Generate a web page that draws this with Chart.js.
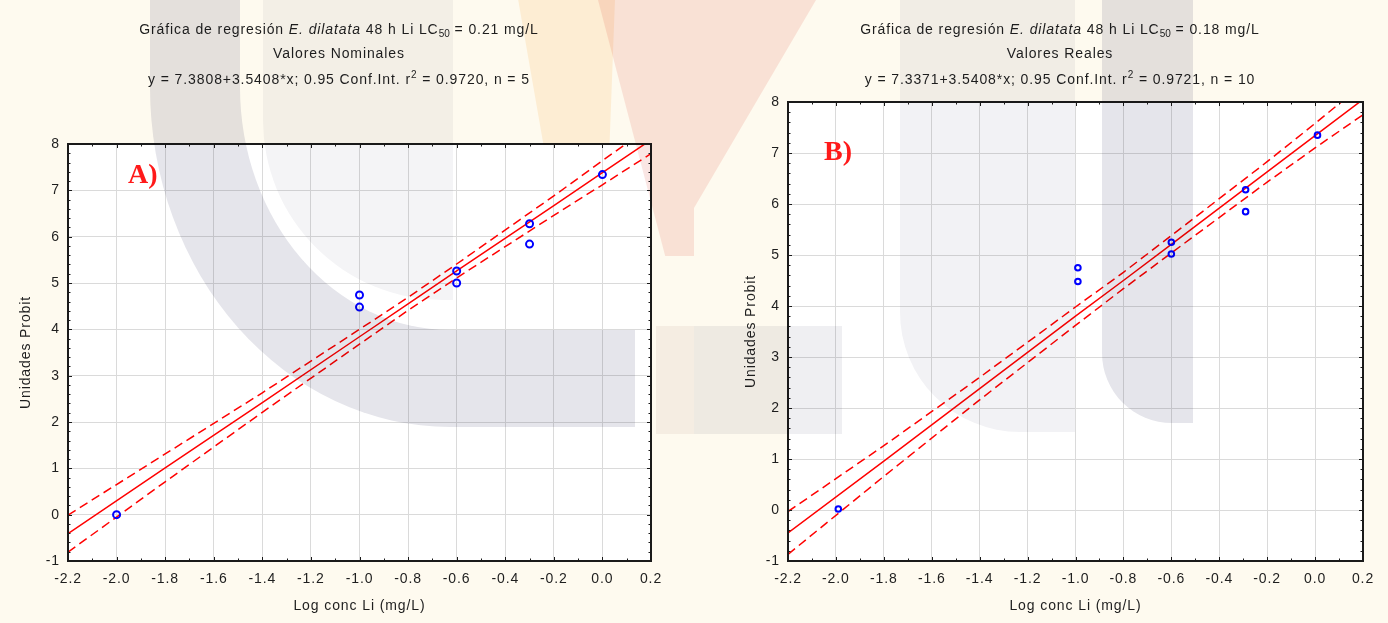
<!DOCTYPE html>
<html lang="es">
<head>
<meta charset="UTF-8">
<title>Gráfica de regresión E. dilatata 48 h Li</title>
<script src="https://cdn.jsdelivr.net/npm/chart.js@4.4.1/dist/chart.umd.min.js"></script>
<style>
    body {
        margin: 0;
        width: 1388px;
        height: 623px;
        overflow: hidden;
        position: relative;
        background: #fefaef;
        font-family: "Liberation Sans", Arial, sans-serif;
        color: #1e1e1e;
    }
    .panel { position: absolute; top: 0; width: 694px; height: 623px; }
    .panel canvas { position: absolute; left: 0; top: 0; }
    .ttl {
        position: absolute;
        width: 694px;
        text-align: center;
        font-size: 14px;
        line-height: 16px;
        letter-spacing: 0.9px;
        white-space: nowrap;
    }
    .ttl sub { font-size: 10px; vertical-align: -3px; line-height: 0; letter-spacing: 0; }
    .ttl sup { font-size: 10px; vertical-align: 6px; line-height: 0; }
    .tag {
        position: absolute;
        font: bold 28px "Liberation Serif", "Times New Roman", serif;
        line-height: 28px;
        color: #ff1a1a;
    }
    /* watermark behind the figure, multiplied over everything */
    .wm { position: absolute; mix-blend-mode: multiply; pointer-events: none; box-sizing: border-box; }
</style>
</head>
<body>

<div class="panel" style="left:0">
    <canvas id="chartA" width="694" height="623"></canvas>
    <div class="ttl" style="left:-8px; top:21px">Gráfica de regresión <i>E. dilatata</i> 48 h Li LC<sub>50</sub> = 0.21 mg/L</div>
    <div class="ttl" style="left:-8px; top:45px">Valores Nominales</div>
    <div class="ttl" style="left:-8px; top:71px">y = 7.3808+3.5408*x; 0.95 Conf.Int. r<sup>2</sup> = 0.9720, n = 5</div>
    <div class="tag" style="left:128px; top:160px">A)</div>
</div>

<div class="panel" style="left:694px">
    <canvas id="chartB" width="694" height="623"></canvas>
    <div class="ttl" style="left:19px; top:21px">Gráfica de regresión <i>E. dilatata</i> 48 h Li LC<sub>50</sub> = 0.18 mg/L</div>
    <div class="ttl" style="left:19px; top:45px">Valores Reales</div>
    <div class="ttl" style="left:19px; top:71px">y = 7.3371+3.5408*x; 0.95 Conf.Int. r<sup>2</sup> = 0.9721, n = 10</div>
    <div class="tag" style="left:130px; top:137px">B)</div>
</div>

<!-- rough logo watermark -->
<div class="wm" style="left:150px; top:-300px; width:485px; height:727px; border-left:90px solid #e5e5eb; border-bottom:97px solid #e5e5eb; border-bottom-left-radius:300px 340px;"></div>
<div class="wm" style="left:263px; top:0; width:190px; height:300px; background:#f4f4f6; border-bottom-left-radius:180px;"></div>
<div class="wm" style="left:505px; top:0; width:110px; height:145px; background:#fef2e2; clip-path:polygon(12% 0, 100% 0, 95% 100%, 35% 100%);"></div>
<div class="wm" style="left:598px; top:0; width:96px; height:256px; background:#fae6e4; clip-path:polygon(0 0, 100% 0, 100% 100%, 70% 100%);"></div>
<div class="wm" style="left:656px; top:326px; width:38px; height:108px; background:#f6f2f2;"></div>
<div class="wm" style="left:694px; top:0; width:122px; height:208px; background:#fae6e4; clip-path:polygon(0 0, 100% 0, 0 100%);"></div>
<div class="wm" style="left:694px; top:326px; width:148px; height:108px; background:#efeff2;"></div>
<div class="wm" style="left:900px; top:0; width:175px; height:432px; background:#f2f2f5; border-bottom-left-radius:120px;"></div>
<div class="wm" style="left:1102px; top:0; width:91px; height:423px; background:#e5e5eb; border-bottom-left-radius:70px;"></div>

<script>
    // axis ticks (labelled)
    const xTicks = [-2.2, -2.0, -1.8, -1.6, -1.4, -1.2, -1.0, -0.8, -0.6, -0.4, -0.2, 0.0, 0.2];
    const yTicks = [-1, 0, 1, 2, 3, 4, 5, 6, 7, 8];

    // observed probits, panel A (nominal concentrations)
    const concA = [-2.0, -1.0, -1.0, -0.6, -0.6, -0.3, -0.3, 0.0];
    const probitA = [0.0, 4.74, 4.48, 5.26, 5.0, 6.28, 5.84, 7.34];

    // observed probits, panel B (measured concentrations)
    const concB = [-1.99, -0.99, -0.99, -0.6, -0.6, -0.29, -0.29, 0.01];
    const probitB = [0.02, 4.75, 4.48, 5.25, 5.02, 6.28, 5.85, 7.35];

    // fitted line and 95% band, read along the x axis
    const fitX = [-2.2, -1.8, -1.4, -1.0, -0.8, -0.6, -0.2, 0.0, 0.2];
    const fitA = [-0.41, 1.01, 2.42, 3.84, 4.55, 5.26, 6.67, 7.38, 8.09];
    const upperA = [-0.01, 1.31, 2.63, 4.00, 4.69, 5.41, 6.88, 7.64, 8.39];
    const lowerA = [-0.81, 0.71, 2.21, 3.68, 4.41, 5.11, 6.46, 7.12, 7.79];
    const fitB = [-0.45, 0.96, 2.38, 3.80, 4.50, 5.21, 6.63, 7.34, 8.05];
    const upperB = [-0.03, 1.26, 2.60, 3.98, 4.66, 5.38, 6.83, 7.58, 8.35];
    const lowerB = [-0.87, 0.66, 2.16, 3.62, 4.34, 5.04, 6.43, 7.10, 7.75];

    const FONT = '"Liberation Sans", Arial, sans-serif';
    const RED = '#ff0000';
    const BLUE = '#0000ff';

    const pairs = (xs, ys) => xs.map((v, i) => ({ x: v, y: ys[i] }));

    // white plot area, black frame and inward minor/major ticks on all four sides
    const framePlugin = {
        id: 'frame',
        beforeDraw(chart) {
            const { ctx, chartArea: a } = chart;
            ctx.save();
            ctx.fillStyle = '#ffffff';
            ctx.fillRect(a.left, a.top, a.right - a.left, a.bottom - a.top);
            ctx.restore();
            ctx.letterSpacing = '0.9px';
        },
        afterDraw(chart) {
            const { ctx, chartArea: a, scales } = chart;
            const sx = scales.x, sy = scales.y;
            ctx.save();
            ctx.strokeStyle = '#1a1a1a';
            ctx.lineWidth = 1;
            ctx.beginPath();
            for (let i = 0; i <= 24; i++) {
                const px = Math.round(sx.getPixelForValue(xTicks[0] + i * 0.1)) + 0.5;
                const len = i % 2 === 0 ? 4 : 2.5;
                ctx.moveTo(px, a.bottom); ctx.lineTo(px, a.bottom - len);
                ctx.moveTo(px, a.top); ctx.lineTo(px, a.top + len);
            }
            for (let i = 0; i <= 45; i++) {
                const py = Math.round(sy.getPixelForValue(yTicks[0] + i * 0.2)) + 0.5;
                const len = i % 5 === 0 ? 4 : 2.5;
                ctx.moveTo(a.left, py); ctx.lineTo(a.left + len, py);
                ctx.moveTo(a.right, py); ctx.lineTo(a.right - len, py);
            }
            ctx.stroke();
            ctx.lineWidth = 2;
            ctx.strokeRect(a.left, a.top, a.right - a.left, a.bottom - a.top);
            ctx.restore();
        }
    };

    function makeChart(id, conc, probit, fit, upper, lower, pad, yWidth, markR) {
        const ctx = document.getElementById(id).getContext('2d');
        return new Chart(ctx, {
            type: 'scatter',
            data: {
                datasets: [
                    {
                        data: pairs(conc, probit),
                        pointStyle: 'circle',
                        pointRadius: markR,
                        pointBorderWidth: 2,
                        pointBorderColor: BLUE,
                        pointBackgroundColor: 'rgba(0,0,0,0)',
                        showLine: false
                    },
                    {
                        data: pairs(fitX, fit),
                        showLine: true,
                        pointRadius: 0,
                        borderColor: RED,
                        borderWidth: 1.5
                    },
                    {
                        data: pairs(fitX, upper),
                        showLine: true,
                        pointRadius: 0,
                        borderColor: RED,
                        borderWidth: 1.5,
                        borderDash: [9, 5]
                    },
                    {
                        data: pairs(fitX, lower),
                        showLine: true,
                        pointRadius: 0,
                        borderColor: RED,
                        borderWidth: 1.5,
                        borderDash: [9, 5]
                    }
                ]
            },
            options: {
                responsive: false,
                devicePixelRatio: 1,
                animation: false,
                layout: { padding: pad },
                plugins: { legend: { display: false }, tooltip: { enabled: false } },
                scales: {
                    x: {
                        type: 'linear',
                        min: xTicks[0],
                        max: xTicks[xTicks.length - 1],
                        afterBuildTicks: s => { s.ticks = xTicks.map(v => ({ value: v })); },
                        afterFit: s => { s.height = 58; },
                        grid: { color: '#dadada', lineWidth: 1, drawTicks: false },
                        border: { display: false },
                        ticks: {
                            padding: 10,
                            color: '#1e1e1e',
                            font: { family: FONT, size: 14 },
                            maxRotation: 0,
                            callback: v => (Math.abs(v) < 1e-9 ? 0 : v).toFixed(1)
                        },
                        title: {
                            display: true,
                            text: 'Log conc Li (mg/L)',
                            color: '#1e1e1e',
                            font: { family: FONT, size: 14 },
                            padding: { top: 4, bottom: 4 }
                        }
                    },
                    y: {
                        type: 'linear',
                        min: yTicks[0],
                        max: yTicks[yTicks.length - 1],
                        afterBuildTicks: s => { s.ticks = yTicks.map(v => ({ value: v })); },
                        afterFit: s => { s.width = yWidth; },
                        grid: { color: '#dadada', lineWidth: 1, drawTicks: false },
                        border: { display: false },
                        ticks: {
                            padding: 8,
                            color: '#1e1e1e',
                            font: { family: FONT, size: 14 },
                            callback: v => String(Math.round(v))
                        },
                        title: {
                            display: true,
                            text: 'Unidades Probit',
                            color: '#1e1e1e',
                            font: { family: FONT, size: 14 },
                            padding: { top: 4, bottom: 4 }
                        }
                    }
                }
            },
            plugins: [framePlugin]
        });
    }

    makeChart('chartA', concA, probitA, fitA, upperA, lowerA,
        { left: 14, top: 144, right: 43, bottom: 4 }, 54, 3.5);
    makeChart('chartB', concB, probitB, fitB, upperB, lowerB,
        { left: 45, top: 102, right: 25, bottom: 4 }, 49, 2.8);
</script>
</body>
</html>
